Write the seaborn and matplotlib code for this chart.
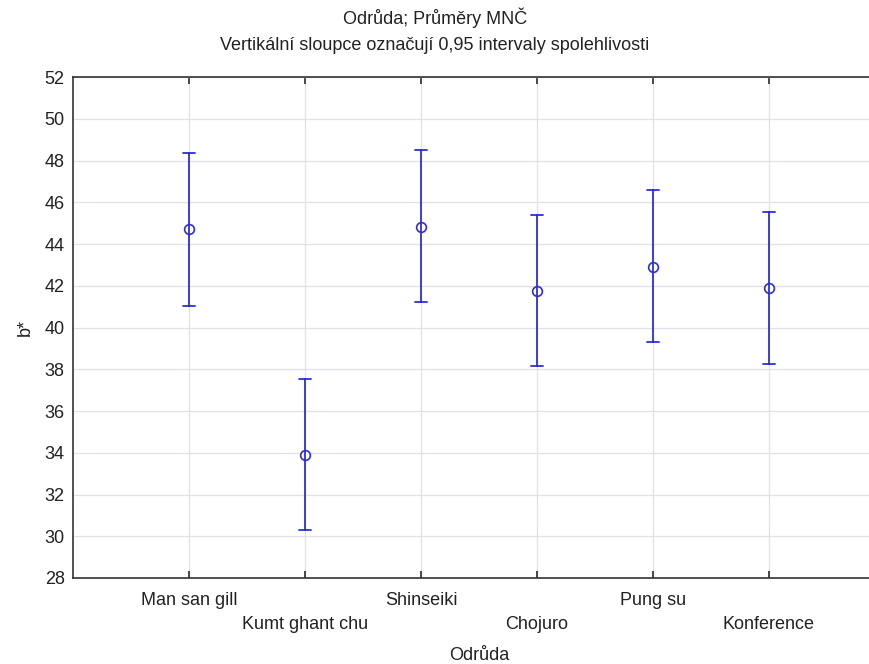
import matplotlib
matplotlib.use("Agg")
import matplotlib.pyplot as plt
import seaborn as sns
import pandas as pd
import numpy as np

categories = ["Man san gill", "Kumt ghant chu", "Shinseiki", "Chojuro", "Pung su", "Konference"]
means = [44.7, 33.9, 44.8, 41.75, 42.9, 41.9]
lower = [41.05, 30.3, 41.2, 38.15, 39.3, 38.25]
upper = [48.35, 37.55, 48.5, 45.4, 46.6, 45.55]
yticks = list(range(28, 53, 2))

rows = []
for c, lo, m, hi in zip(categories, lower, means, upper):
    for v in (lo, m, hi):
        rows.append({"Odrůda": c, "b*": v})
df = pd.DataFrame(rows)

sns.set_theme(style="white")
plt.rcParams["font.family"] = ["Liberation Sans", "DejaVu Sans"]

fig = plt.figure(figsize=(8.7, 6.64), dpi=100)
ax = fig.add_axes([73/870, 86/664, 812/870, 501/664])

blue = "#2f2fd0"
sns.pointplot(data=df, x="Odrůda", y="b*", order=categories,
              estimator=np.median, errorbar=lambda x: (np.min(x), np.max(x)),
              color=blue, markers="o", linestyles="none", capsize=0.1,
              err_kws={"linewidth": 1.3}, markerfacecolor="white",
              markeredgecolor=blue, markeredgewidth=1.2, markersize=7, ax=ax)

fs = 13
ax.set_xlim(-1, 6)
ax.set_ylim(28, 52)
ax.set_yticks(yticks)
ax.set_yticklabels([str(t) for t in yticks], fontsize=fs, color="#222222")
ax.set_xticks(range(len(categories)))
ax.set_xticklabels([c if i % 2 == 0 else "\n" + c for i, c in enumerate(categories)],
                   fontsize=fs, color="#222222", linespacing=1.55)
ax.grid(True, color="#e0e0e8", linewidth=0.9)
ax.set_axisbelow(True)
for s in ax.spines.values():
    s.set_color("#333333")
    s.set_linewidth(1.2)
ax.spines["right"].set_visible(False)
ax.tick_params(axis="x", direction="in", length=5, top=True, bottom=True, pad=10, color="#333333")
ax.tick_params(axis="y", direction="in", length=0, pad=6)
ax.set_xlabel("Odrůda", fontsize=fs, color="#222222", labelpad=10)
ax.set_ylabel("b*", fontsize=fs, color="#222222", labelpad=8)
fig.text(0.5, 1 - 18/664, "Odrůda; Průměry MNČ", ha="center", va="center", fontsize=fs, color="#222222")
fig.text(0.5, 1 - 45/664, "Vertikální sloupce označují 0,95 intervaly spolehlivosti",
         ha="center", va="center", fontsize=fs, color="#222222")

fig.savefig("out.png", dpi=100, facecolor="white")
